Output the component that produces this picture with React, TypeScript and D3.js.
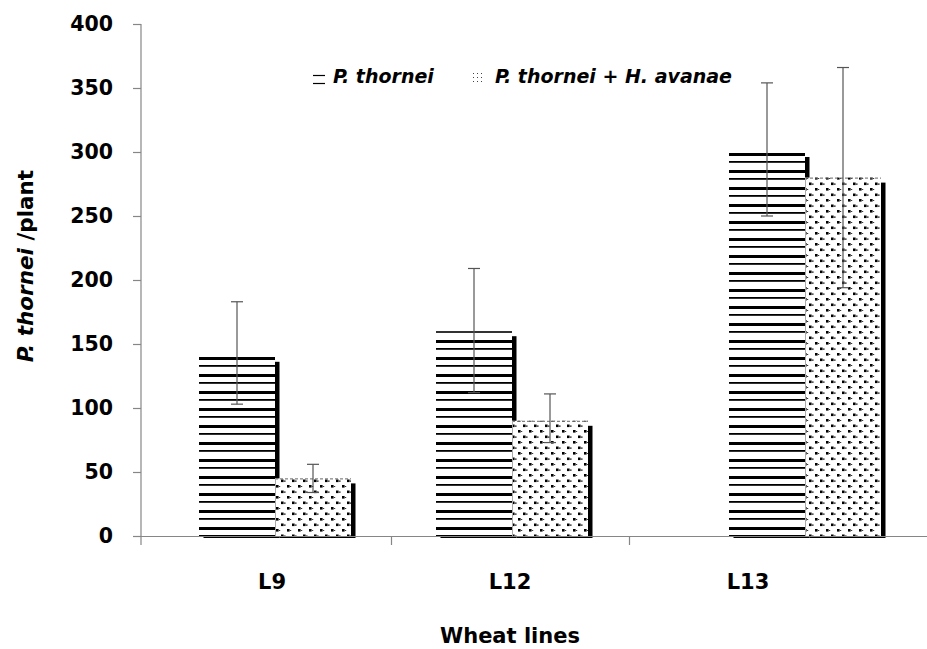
import React from "react";
import * as d3 from "d3";

// Nematode counts per plant for three wheat lines
const categories = ["L9", "L12", "L13"];
const seriesNames = ["P. thornei", "P. thornei + H. avanae"];
const thorneiValues = [140, 160, 300];
const thorneiErrPlus = [43, 49, 54];
const thorneiErrMinus = [37, 48, 50];
const mixedValues = [45, 90, 280];
const mixedErrPlus = [11, 21, 86];
const mixedErrMinus = [11, 17, 86];
const yTicks = [0, 50, 100, 150, 200, 250, 300, 350, 400];

const W = 927;
const H = 649;
const FONT = "'DejaVu Sans', sans-serif";
const AXIS = "#868686";

// horizontal shift of each bar pair inside its category slot
const groupNudge = [3, 2, 57];
const barW = 76;

export default function App() {
  const y = d3.scaleLinear().domain([0, 400]).range([536, 24]);
  const x = d3.scaleBand<string>().domain(categories).range([153, 867]).padding(0);
  const axisX = 141;
  const y0 = y(0);

  const series = [
    { name: seriesNames[0], values: thorneiValues, plus: thorneiErrPlus, minus: thorneiErrMinus, fill: "url(#hlines)", dotted: false },
    { name: seriesNames[1], values: mixedValues, plus: mixedErrPlus, minus: mixedErrMinus, fill: "url(#dots)", dotted: true },
  ];

  const bars: React.ReactNode[] = [];
  const errs: React.ReactNode[] = [];
  categories.forEach((c, ci) => {
    const center = (x(c) as number) + x.bandwidth() / 2 + groupNudge[ci];
    series.forEach((s, si) => {
      const v = s.values[ci];
      const bx = center - barW + si * barW;
      const by = y(v);
      const bh = y0 - by;
      bars.push(
        <g key={`b-${c}-${si}`}>
          <rect x={bx + 4.5} y={by + 5} width={barW} height={y0 + 2 - (by + 5)} fill="#000" />
          <rect x={bx} y={by} width={barW} height={bh} fill="#fff" />
          <rect x={bx} y={by} width={barW} height={bh} fill={s.fill} />
          {s.dotted && (
            <>
              <line x1={bx} x2={bx + barW} y1={by + 0.5} y2={by + 0.5} stroke="#666" strokeDasharray="3 2" />
              <line x1={bx + 0.5} x2={bx + 0.5} y1={by} y2={y0} stroke="#aaa" />
            </>
          )}
        </g>
      );
      const ex = bx + barW / 2;
      const yt = y(v + s.plus[ci]);
      const yb = y(v - s.minus[ci]);
      errs.push(
        <g key={`e-${c}-${si}`} stroke="#555" strokeWidth={1.2}>
          <line x1={ex} x2={ex} y1={yt} y2={yb} />
          <line x1={ex - 6} x2={ex + 6} y1={yt} y2={yt} />
          <line x1={ex - 6} x2={ex + 6} y1={yb} y2={yb} />
        </g>
      );
    });
  });

  return (
    <svg width={W} height={H} style={{ position: "absolute", left: 0, top: 0, background: "#fff" }} fontFamily={FONT}>
      <defs>
        <pattern id="hlines" patternUnits="userSpaceOnUse" x={0} y={0} width={8} height={17}>
          <rect x={0} y={0} width={8} height={3} fill="#000" />
          <rect x={0} y={8} width={8} height={1.8} fill="#000" />
        </pattern>
        <pattern id="dots" patternUnits="userSpaceOnUse" x={0} y={0} width={11} height={11}>
          <rect x={1} y={1} width={2.6} height={2.6} fill="#000" />
          <rect x={6} y={6.5} width={2.6} height={2.6} fill="#000" />
          <rect x={9} y={7.5} width={1.6} height={1.2} fill="#111" />
          <rect x={4} y={2} width={1.2} height={1} fill="#333" />
        </pattern>
        <pattern id="dotsSmall" patternUnits="userSpaceOnUse" x={0} y={0} width={4} height={4}>
          <rect x={1} y={1} width={1} height={1} fill="#444" />
        </pattern>
      </defs>

      {/* bars with drop shadows */}
      {bars}
      {errs}

      {/* axes */}
      <line x1={133} x2={W} y1={y0 + 0.5} y2={y0 + 0.5} stroke={AXIS} strokeWidth={1.2} />
      <line x1={axisX} x2={axisX} y1={y(400)} y2={y0 + 9} stroke={AXIS} strokeWidth={1.2} />
      {yTicks.map((t) => (
        <g key={`yt-${t}`}>
          <line x1={133} x2={axisX} y1={y(t) + 0.5} y2={y(t) + 0.5} stroke={AXIS} strokeWidth={1.2} />
          <text x={113} y={y(t)} dy="0.36em" textAnchor="end" fontSize={20.5} fontWeight="bold" fill="#000">
            {t}
          </text>
        </g>
      ))}
      {categories.slice(1).map((c) => (
        <line key={`xt-${c}`} x1={(x(c) as number) + 0.5} x2={(x(c) as number) + 0.5} y1={y0} y2={y0 + 9} stroke={AXIS} strokeWidth={1.2} />
      ))}
      {categories.map((c) => (
        <text key={`xl-${c}`} x={(x(c) as number) + x.bandwidth() / 2} y={589} textAnchor="middle" fontSize={21} fontWeight="bold" fill="#000">
          {c}
        </text>
      ))}

      {/* axis titles */}
      <text x={510} y={643} textAnchor="middle" fontSize={21} fontWeight="bold" fill="#000">
        Wheat lines
      </text>
      <text transform="translate(33,266) rotate(-90)" textAnchor="middle" fontSize={21.5} fontWeight="bold" fill="#000">
        <tspan fontStyle="italic">P. thornei</tspan>
        <tspan> /plant</tspan>
      </text>

      {/* legend */}
      <g>
        <line x1={313} x2={325} y1={75.5} y2={75.5} stroke="#000" strokeWidth={1.2} />
        <line x1={313} x2={325} y1={83.5} y2={83.5} stroke="#000" strokeWidth={1.2} />
        <text x={333} y={83} fontSize={19} fontWeight="bold" fontStyle="italic" fill="#000">
          {seriesNames[0]}
        </text>
        <rect x={472} y={73} width={12} height={12} fill="url(#dotsSmall)" />
        <text x={495} y={83} fontSize={19} fontWeight="bold" fontStyle="italic" fill="#000">
          {seriesNames[1]}
        </text>
      </g>
    </svg>
  );
}
